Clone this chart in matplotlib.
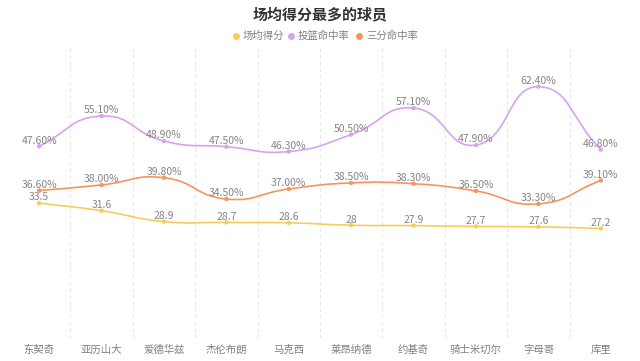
import numpy as np
import matplotlib
matplotlib.use('Agg')
import matplotlib.pyplot as plt
from matplotlib.path import Path
from matplotlib.patches import PathPatch
from matplotlib.lines import Line2D

plt.rcParams['font.family'] = ['Noto Sans CJK SC', 'DejaVu Sans']

players = ['东契奇', '亚历山大', '爱德华兹', '杰伦布朗', '马克西',
           '莱昂纳德', '约基奇', '骑士米切尔', '字母哥', '库里']
points = [33.5, 31.6, 28.9, 28.7, 28.6, 28, 27.9, 27.7, 27.6, 27.2]
fg_pct = [47.6, 55.1, 48.9, 47.5, 46.3, 50.5, 57.1, 47.9, 62.4, 46.8]
three_pct = [36.6, 38.0, 39.8, 34.5, 37.0, 38.5, 38.3, 36.5, 33.3, 39.1]

series_names = ['场均得分', '投篮命中率', '三分命中率']
colors = ['#f8cb5c', '#d7a3ef', '#f7935f']

fig = plt.figure(figsize=(6.4, 3.61), dpi=100)
ax = fig.add_axes([8/640, (361-338)/361, 624/640, 290/361])
x = np.arange(len(players))
ax.set_xlim(-0.5, len(players) - 0.5)
ax.set_ylim(0, 72)
for s in ax.spines.values():
    s.set_visible(False)
ax.set_yticks([])
ax.set_xticks(x)
ax.set_xticklabels(players, fontsize=7.5, color='#808080')
ax.tick_params(axis='x', length=0, pad=5)

# dashed split lines between categories
for b in np.arange(0.5, len(players) - 0.5, 1):
    ax.axvline(b, color='#e6e6e6', lw=0.8, ls=(0, (3, 3)), zorder=0)


def smooth_path(xs, ys, smooth=0.5):
    # echarts style bezier smoothing, done in pixel space
    pts = ax.transData.transform(np.column_stack([xs, ys]))
    n = len(pts)
    verts = [pts[0]]
    codes = [Path.MOVETO]
    cps = []
    for i in range(n):
        p = pts[i]
        prev = pts[i - 1] if i > 0 else p
        nxt = pts[i + 1] if i < n - 1 else p
        v = (nxt - prev) * smooth
        d0 = np.hypot(*(p - prev))
        d1 = np.hypot(*(nxt - p))
        tot = d0 + d1
        if tot == 0:
            cps.append((p, p))
            continue
        cps.append((p - v * d0 / tot, p + v * d1 / tot))
    for i in range(n - 1):
        verts += [cps[i][1], cps[i + 1][0], pts[i + 1]]
        codes += [Path.CURVE4] * 3
    verts = ax.transData.inverted().transform(np.array(verts))
    return Path(verts, codes)


for vals, c, pct in [(points, colors[0], False),
                     (fg_pct, colors[1], True),
                     (three_pct, colors[2], True)]:
    ax.add_patch(PathPatch(smooth_path(x, vals), fc='none', ec=c, lw=1.2, zorder=2))
    ax.scatter(x, vals, s=10, color=c, zorder=3, edgecolors='none')
    for xi, v in zip(x, vals):
        txt = '%.2f%%' % v if pct else ('%g' % v)
        ax.annotate(txt, (xi, v), xytext=(0, 0.5), textcoords='offset points',
                    ha='center', va='bottom', fontsize=7.5, color='#858585', zorder=4)

fig.text(0.5, 1 - 14/361, '场均得分最多的球员', ha='center', va='center',
         fontsize=10.8, fontweight='bold', color='#333333')

# legend
leg_x = [236, 291, 359]
for lx, name, c in zip(leg_x, series_names, colors):
    fig.add_artist(Line2D([lx/640], [1 - 36/361], marker='o', ms=5, color=c,
                          mec='none', transform=fig.transFigure))
    fig.text((lx + 7)/640, 1 - 36/361, name, ha='left', va='center',
             fontsize=7.5, color='#808080')

fig.savefig('out.png', dpi=100, facecolor='white')
